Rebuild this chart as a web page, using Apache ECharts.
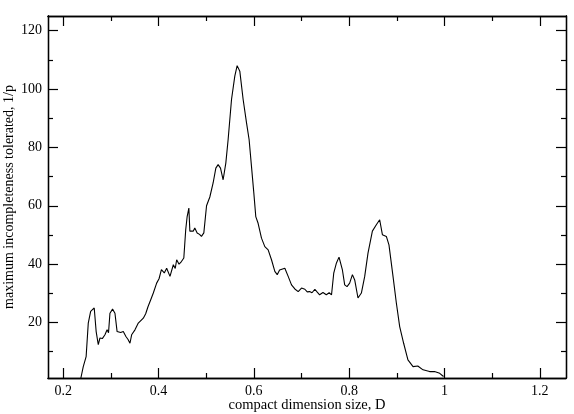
<!DOCTYPE html>
<html>
<head>
<meta charset="utf-8">
<script src="https://cdn.jsdelivr.net/npm/echarts@6/dist/echarts.min.js"></script>
<style>
  html, body { margin: 0; padding: 0; background: #fff; }
  #chart { width: 574px; height: 414px; }
</style>
</head>
<body>
<div id="chart"></div>
<script>
// compact dimension size D (x) and maximum incompleteness tolerated 1/p (y)
const dimSize = [
  0.237, 0.242, 0.248, 0.2525, 0.2575, 0.261, 0.265, 0.269, 0.2735, 0.277,
  0.282, 0.2875, 0.292, 0.295, 0.298, 0.3035, 0.3085, 0.313, 0.3205, 0.326,
  0.3315, 0.336, 0.34, 0.3435, 0.3505, 0.3575, 0.368, 0.373, 0.378, 0.384,
  0.389, 0.396, 0.401, 0.406, 0.412, 0.417, 0.424, 0.431, 0.435, 0.438,
  0.443, 0.448, 0.453, 0.457, 0.46, 0.4636, 0.4657, 0.4727, 0.476, 0.481,
  0.486, 0.49, 0.495, 0.5007, 0.5076, 0.5145, 0.5202, 0.525, 0.53, 0.5355,
  0.5412, 0.546, 0.5531, 0.56, 0.5649, 0.5705, 0.5775, 0.5846, 0.59, 0.595,
  0.5999, 0.604, 0.6089, 0.616, 0.623, 0.63, 0.637, 0.644, 0.649, 0.654,
  0.658, 0.665, 0.672, 0.679, 0.686, 0.693, 0.7, 0.707, 0.712, 0.717,
  0.722, 0.728, 0.733, 0.738, 0.745, 0.752, 0.758, 0.763, 0.7676, 0.7733,
  0.7787, 0.7858, 0.7906, 0.7955, 0.801, 0.8068, 0.8116, 0.8185, 0.8256, 0.8326,
  0.8395, 0.8487, 0.857, 0.864, 0.8697, 0.878, 0.8835, 0.892, 0.899, 0.906,
  0.9143, 0.9233, 0.934, 0.944, 0.955, 0.9688, 0.979, 0.99, 0.998
];
const tolerance = [
  1.0, 4.9, 8.3, 19.8, 23.8, 23.5, 25.0, 17.0, 12.4, 14.7,
  14.5, 15.8, 17.5, 16.5, 23.2, 24.6, 23.2, 16.9, 16.6, 16.9,
  15.2, 14.2, 12.9, 15.8, 17.5, 19.8, 21.5, 23.0, 25.5, 28.0,
  30.1, 33.5, 35.0, 38.1, 37.0, 38.6, 35.8, 39.8, 38.5, 41.5,
  40.0, 40.9, 42.1, 51.8, 56.3, 59.2, 51.3, 51.3, 52.4, 50.7,
  50.2, 49.5, 50.7, 60.0, 63.0, 67.8, 72.9, 74.1, 72.9, 68.9,
  74.7, 82.7, 96.4, 104.4, 108.0, 106.1, 96.4, 88.4, 82.7, 73.5,
  64.4, 56.3, 54.0, 48.9, 46.0, 44.9, 41.5, 37.5, 36.4, 38.0,
  37.5, 38.6, 35.8, 32.9, 31.5, 30.6, 31.8, 31.4, 30.5, 30.6,
  30.2, 31.4, 30.4, 29.5, 30.3, 29.5, 30.2, 29.5, 36.9, 40.4,
  42.4, 38.0, 32.9, 32.3, 33.5, 36.4, 34.6, 28.4, 30.1, 35.8,
  43.8, 51.3, 53.5, 55.2, 50.1, 49.5, 46.6, 35.8, 26.7, 18.6,
  12.9, 7.2, 4.9, 5.1, 3.8, 3.2, 3.2, 2.6, 1.5
];
const xMajorTicks = [0.2, 0.4, 0.6, 0.8, 1, 1.2];
const xMinorTicks = [0.3, 0.5, 0.7, 0.9, 1.1];
const yMajorTicks = [20, 40, 60, 80, 100, 120];
const yMinorTicks = [10, 30, 50, 70, 90, 110];

const X_MIN = 0.168, X_MAX = 1.255;
const Y_MIN = 1, Y_MAX = 125;
const FONT = 'Liberation Serif';

function axisBase(type, pos, ticks, len, withLabel) {
  return {
    type: 'value',
    position: pos,
    min: type === 'x' ? X_MIN : Y_MIN,
    max: type === 'x' ? X_MAX : Y_MAX,
    splitLine: { show: false },
    axisLine: { show: true, onZero: false, lineStyle: { color: '#000', width: 1.3 } },
    axisTick: { show: true, inside: true, length: len, customValues: ticks,
                lineStyle: { color: '#000', width: 1.2 } },
    axisLabel: withLabel
      ? { show: true, customValues: ticks, margin: 6, color: '#000',
          fontFamily: FONT, fontSize: 14 }
      : { show: false }
  };
}

const xBottom = axisBase('x', 'bottom', xMajorTicks, 10, true);
xBottom.name = 'compact dimension size, D';
xBottom.nameLocation = 'middle';
xBottom.nameGap = 20;
xBottom.nameMoveOverlap = false;
xBottom.nameTextStyle = { color: '#000', fontFamily: FONT, fontSize: 14.5 };

const yLeft = axisBase('y', 'left', yMajorTicks, 10, true);
yLeft.name = 'maximum incompleteness tolerated, 1/p';
yLeft.nameLocation = 'middle';
yLeft.nameGap = 32;
yLeft.nameMoveOverlap = false;
yLeft.nameTextStyle = { color: '#000', fontFamily: FONT, fontSize: 14 };

const chart = echarts.init(document.getElementById('chart'), null, { renderer: 'canvas' });
chart.setOption({
  backgroundColor: '#fff',
  animation: false,
  grid: { left: 48, right: 8, top: 16, bottom: 36, containLabel: false, outerBoundsMode: 'none' },
  xAxis: [
    xBottom,
    axisBase('x', 'bottom', xMinorTicks, 5, false),
    axisBase('x', 'top', xMajorTicks, 10, false),
    axisBase('x', 'top', xMinorTicks, 5, false)
  ],
  yAxis: [
    yLeft,
    axisBase('y', 'left', yMinorTicks, 5, false),
    axisBase('y', 'right', yMajorTicks, 10, false),
    axisBase('y', 'right', yMinorTicks, 5, false)
  ],
  series: [{
    type: 'line',
    xAxisIndex: 0,
    yAxisIndex: 0,
    data: dimSize.map((d, i) => [d, tolerance[i]]),
    showSymbol: false,
    symbol: 'none',
    lineStyle: { color: '#000', width: 1.1 },
    clip: true
  }]
});
</script>
</body>
</html>
